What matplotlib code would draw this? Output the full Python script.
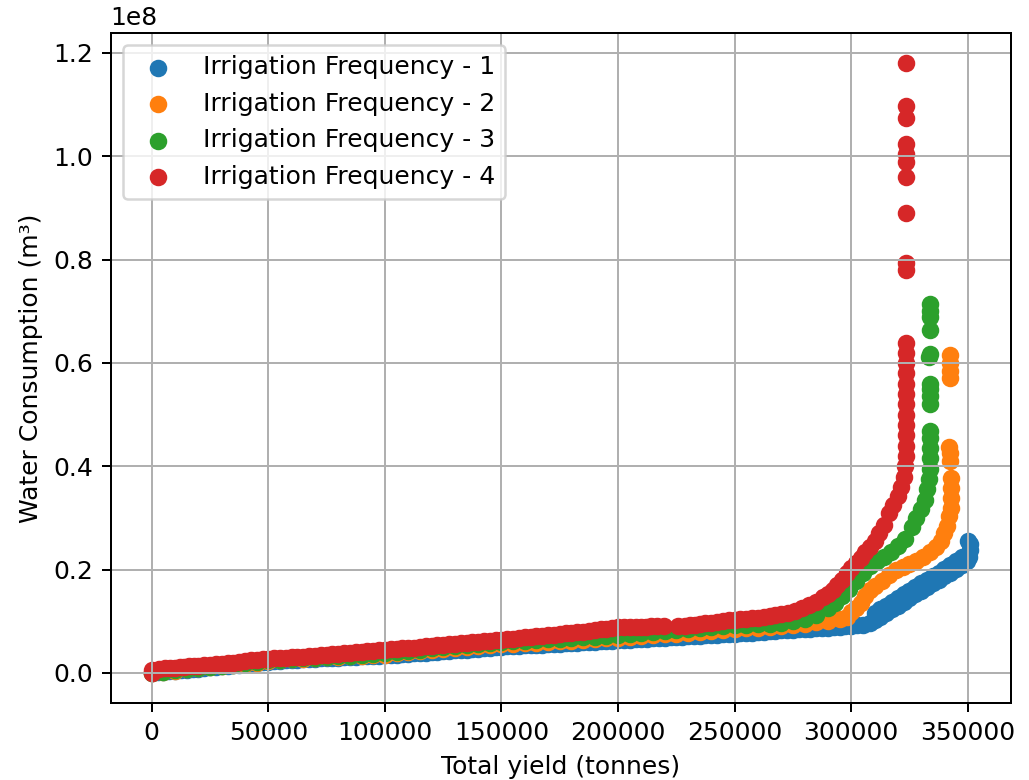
import numpy as np
import matplotlib
matplotlib.use('Agg')
import matplotlib.pyplot as plt

# values: yield in thousand tonnes, water in million m3
labels = ['Irrigation Frequency - 1', 'Irrigation Frequency - 2',
          'Irrigation Frequency - 3', 'Irrigation Frequency - 4']

freq1_yield = [0, 5, 10, 15, 20, 25, 30, 35, 40, 45, 50, 55, 60, 65, 70, 75, 80, 85, 90, 95,
               100, 105, 110, 115, 120, 125, 130, 135, 140, 145, 150, 155, 160, 165, 170, 175,
               180, 185, 190, 195, 200, 205, 210, 215, 220, 225, 230, 235, 240, 245, 250, 255,
               260, 265, 270, 275, 280, 285, 290, 295, 300, 305, 308,
               2.5, 7.5, 12.5, 17.5, 22.5, 27.5, 32.5, 37.5, 42.5, 47.5, 52.5, 57.5, 62.5,
               67.5, 72.5, 77.5, 82.5, 87.5, 92.5, 97.5, 102.5, 107.5, 112.5, 117.5, 122.5,
               127.5, 132.5, 137.5, 142.5, 147.5, 152.5, 157.5, 162.5, 167.5, 172.5, 177.5,
               182.5, 187.5, 192.5, 197.5, 202.5, 207.5, 212.5, 217.5, 222.5, 227.5, 232.5,
               237.5, 242.5, 247.5, 252.5, 257.5, 262.5, 267.5, 272.5, 277.5, 282.5, 287.5,
               292.5, 297.5, 302.5,
               310, 312.5, 315, 317.5, 320, 322.5, 325, 327.5, 330, 332.5, 335, 337.5, 340,
               342.5, 345, 347.5, 349.5,
               310, 312.5, 315, 317.5, 320, 322.5, 325, 327.5, 330, 332.5, 335, 337.5, 340,
               342.5, 345, 347.5,
               350.5, 350.8, 350.8, 350.3]
freq1_water = [0.0, 0.2, 0.4, 0.6, 0.8, 1.05, 1.3, 1.5, 1.75, 1.95, 2.15, 2.3, 2.45, 2.6, 2.7,
               2.85, 2.95, 3.05, 3.2, 3.3, 3.4, 3.55, 3.7, 3.85, 4.0, 4.2, 4.35, 4.5, 4.7, 4.85,
               5.05, 5.15, 5.3, 5.4, 5.5, 5.65, 5.8, 5.9, 6.05, 6.2, 6.3, 6.45, 6.55, 6.7, 6.8,
               6.95, 7.05, 7.2, 7.35, 7.5, 7.6, 7.75, 7.9, 8.05, 8.2, 8.35, 8.5, 8.6, 8.75, 8.9,
               9.05, 9.3, 9.6,
               0.1, 0.3, 0.5, 0.7, 0.9, 1.2, 1.4, 1.6, 1.85, 2.05, 2.2, 2.4, 2.5, 2.65, 2.8,
               2.9, 3.0, 3.1, 3.25, 3.35, 3.5, 3.6, 3.8, 3.9, 4.1, 4.3, 4.4, 4.6, 4.8, 4.95,
               5.1, 5.2, 5.35, 5.45, 5.6, 5.7, 5.85, 6.0, 6.1, 6.25, 6.4, 6.5, 6.6, 6.75, 6.9,
               7.0, 7.1, 7.3, 7.4, 7.55, 7.7, 7.8, 8.0, 8.1, 8.3, 8.4, 8.55, 8.7, 8.8, 9.0, 9.2,
               10.2, 10.9, 11.6, 12.3, 13.0, 13.7, 14.5, 15.2, 15.9, 16.6, 17.3, 18.0, 18.7,
               19.4, 20.1, 20.9, 21.7,
               11.6, 12.3, 13.0, 13.8, 14.5, 15.2, 15.9, 16.6, 17.3, 18.0, 18.7, 19.4, 20.1,
               20.8, 21.6, 22.4,
               22.5, 23.8, 25.0, 25.5]

freq2_yield = [0, 5, 10, 15, 20, 25, 30, 35, 40, 45, 50, 55, 60, 65, 70, 75, 80, 85, 90, 95,
               100, 105, 110, 115, 120, 125, 130, 135, 140, 145, 150, 155, 160, 165, 170, 175,
               180, 185, 190, 195, 200, 205, 210, 215, 220, 225, 230, 235, 240, 245, 250, 255,
               260, 265, 270, 275, 280, 285, 290, 295,
               298, 300, 302, 304, 306, 308, 310, 313, 316, 319, 322, 325, 328, 331, 334,
               336.5, 338.5, 340, 341, 342, 342.6, 343, 343, 343,
               342.5, 342.2, 342.0,
               342.2, 342.2, 342.2, 342.2]
freq2_water = [0.0, 0.2, 0.45, 0.65, 0.85, 1.05, 1.3, 1.5, 1.75, 2.0, 2.3, 2.45, 2.6, 2.75,
               2.9, 3.0, 3.15, 3.25, 3.35, 3.45, 3.55, 3.75, 3.95, 4.15, 4.35, 4.55, 4.75,
               4.95, 5.15, 5.3, 5.5, 5.6, 5.75, 5.85, 5.95, 6.1, 6.25, 6.4, 6.5, 6.65, 6.8,
               6.95, 7.1, 7.25, 7.45, 7.6, 7.75, 7.9, 8.1, 8.3, 8.5, 8.6, 8.7, 8.8, 9.0, 9.2,
               9.45, 9.8, 10.1, 10.4,
               10.8, 11.7, 12.6, 13.6, 14.8, 16.0, 16.9, 17.8, 18.9, 19.9, 20.5, 21.0, 21.6,
               22.4, 23.4, 24.3, 25.6, 27.0, 28.5, 30.3, 32.0, 33.8, 35.8, 37.8,
               41.0, 42.5, 43.7,
               57.0, 58.5, 60.0, 61.5]

freq3_yield = [0, 5, 10, 15, 20, 25, 30, 35, 40, 45, 50, 55, 60, 65, 70, 75, 80, 85, 90, 95,
               100, 105, 110, 115, 120, 125, 130, 135, 140, 145, 150, 155, 160, 165, 170, 175,
               180, 185, 190, 195, 200, 205, 210, 215, 220, 225, 230, 235, 240, 245, 250, 255,
               260, 265, 270, 275, 280, 285, 290, 293, 296, 299, 302, 305, 308, 311, 314, 317,
               320, 323, 326, 328, 330, 331.5, 332.5, 333.2, 333.6,
               333.6, 333.6, 333.6, 333.6,
               333.6, 333.6, 333.6, 333.6,
               333.4, 333.6, 333.6, 333.6, 333.6, 333.6]
freq3_water = [0.0, 0.25, 0.5, 0.7, 0.9, 1.1, 1.35, 1.6, 1.85, 2.1, 2.4, 2.55, 2.7, 2.85,
               2.95, 3.05, 3.2, 3.35, 3.5, 3.6, 3.75, 4.0, 4.25, 4.5, 4.75, 4.95, 5.2, 5.4,
               5.6, 5.8, 6.0, 6.1, 6.25, 6.35, 6.5, 6.6, 6.75, 6.9, 7.0, 7.15, 7.3, 7.5, 7.7,
               7.85, 8.05, 8.25, 8.45, 8.65, 8.85, 9.0, 9.2, 9.3, 9.4, 9.5, 9.6, 10.0, 10.5,
               11.2, 12.5, 13.5, 14.8, 16.3, 17.8, 19.4, 20.6, 21.6, 22.5, 23.4, 24.6, 26.0,
               28.2, 30.0, 31.8, 33.5, 35.5, 37.5, 39.5,
               41.5, 43.5, 45.5, 46.9,
               52.0, 53.5, 55.0, 56.0,
               61.1, 61.8, 66.3, 68.8, 70.0, 71.4]

freq4_yield = [0, 0, 3, 8, 12, 16, 20, 25, 30, 35, 40, 45, 50, 55, 60, 65, 70, 75, 80, 85,
               90, 95, 100, 105, 110, 115, 120, 125, 130, 135, 140, 145, 150, 155, 160, 165,
               170, 175, 180, 185, 190, 195, 200, 205, 210, 214, 219.5, 225.5, 231, 235, 240,
               245, 250, 255, 260, 265, 270,
               5.5, 10, 14, 18, 22.5, 27.5, 32.5, 37.5, 42.5, 47.5, 52.5, 57.5, 62.5, 67.5,
               72.5, 77.5, 82.5, 87.5, 92.5, 97.5, 102.5, 107.5, 112.5, 117.5, 122.5, 127.5,
               132.5, 137.5, 142.5, 147.5, 152.5, 157.5, 162.5, 167.5, 172.5, 177.5, 182.5,
               187.5, 192.5, 197.5, 202.5, 207.5, 212, 216.5, 228.5, 233, 237.5, 242.5, 247.5,
               252.5, 257.5, 262.5, 267.5,
               273, 276, 279, 282, 285, 288, 290, 292, 294, 296, 298,
               300, 302, 304, 306, 308, 310, 312, 314, 316, 318, 320, 321.5, 322.5, 323.2,
               323.7, 323.7, 323.7, 323.7, 323.7, 323.7, 323.7, 323.7, 323.7, 323.7, 323.7,
               323.7,
               323.7, 323.7, 323.7, 323.7, 323.7, 323.7, 323.7, 323.7, 323.7, 323.7]
freq4_water = [0.0, 0.5, 0.8, 0.95, 1.1, 1.25, 1.4, 1.6, 1.8, 2.0, 2.25, 2.5, 2.7, 2.85, 3.0,
               3.15, 3.35, 3.5, 3.7, 3.9, 4.1, 4.3, 4.5, 4.65, 4.85, 5.0, 5.2, 5.4, 5.6, 5.8,
               6.0, 6.2, 6.4, 6.6, 6.85, 7.1, 7.3, 7.55, 7.8, 8.0, 8.3, 8.55, 8.85, 8.9, 8.85,
               9.0, 9.1, 9.0, 9.2, 9.45, 9.7, 10.0, 10.3, 10.5, 10.7, 11.0, 11.3,
               0.9, 1.0, 1.2, 1.3, 1.5, 1.7, 1.9, 2.1, 2.4, 2.6, 2.8, 2.9, 3.1, 3.25, 3.4,
               3.6, 3.8, 4.0, 4.2, 4.4, 4.6, 4.75, 4.9, 5.1, 5.3, 5.5, 5.7, 5.9, 6.1, 6.3,
               6.5, 6.7, 7.0, 7.2, 7.4, 7.7, 7.9, 8.15, 8.4, 8.7, 8.9, 8.85, 8.95, 9.05, 9.1,
               9.3, 9.6, 9.85, 10.15, 10.4, 10.6, 10.85, 11.15,
               11.6, 12.0, 12.5, 13.1, 13.8, 14.6, 15.3, 16.1, 17.0, 18.0, 19.3,
               20.3, 21.3, 22.3, 23.3, 24.3, 25.6, 27.0, 28.7, 30.9, 32.5, 34.3, 36.0, 38.0,
               40.0,
               42.0, 44.0, 46.0, 48.0, 50.0, 52.0, 54.0, 56.0, 58.0, 60.0, 62.0, 63.8,
               77.9, 79.4, 89.1, 95.9, 98.8, 100.5, 102.4, 107.3, 109.8, 118.0]

series = [(freq1_yield, freq1_water), (freq2_yield, freq2_water),
          (freq3_yield, freq3_water), (freq4_yield, freq4_water)]

fig = plt.figure(figsize=(1029 / 180, 780 / 180), dpi=180)
ax = fig.add_axes([0.1076, 0.0983, 0.9822 - 0.1076, 0.9577 - 0.0983])

for (xs, ys), lab in zip(series, labels):
    ax.scatter(np.array(xs) * 1000, np.array(ys) * 1e6, label=lab)

ax.set_xlim(-17600, 368400)
ax.set_ylim(-5.9e6, 1.2385e8)
ax.set_xlabel('Total yield (tonnes)')
ax.set_ylabel('Water Consumption (m³)')
ax.grid(True)
ax.legend(loc='upper left')

fig.savefig('out.png', dpi=180)
